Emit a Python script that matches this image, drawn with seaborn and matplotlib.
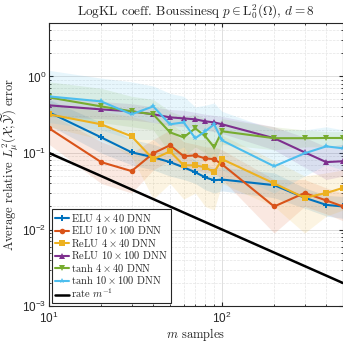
import numpy as np
import pandas as pd
import matplotlib
matplotlib.use("Agg")
import matplotlib.pyplot as plt
import seaborn as sns

# sample sizes
m = [10, 20, 30, 40, 50, 60, 70, 80, 90, 100, 200, 300, 400, 500]

labels = [r"ELU $4\times 40$ DNN", r"ELU $10\times 100$ DNN",
          r"ReLU $4\times 40$ DNN", r"ReLU $10\times 100$ DNN",
          r"tanh $4\times 40$ DNN", r"tanh $10\times 100$ DNN"]

# mean errors
elu_4x40 = [0.340, 0.160, 0.102, 0.088, 0.076, 0.065, 0.056, 0.048, 0.044, 0.045, 0.038, 0.026, 0.021, 0.020]
elu_10x100 = [0.210, 0.076, 0.058, 0.099, 0.126, 0.091, 0.093, 0.085, 0.083, 0.071, 0.020, 0.030, 0.024, 0.020]
relu_4x40 = [0.320, 0.237, 0.165, 0.083, 0.105, 0.069, 0.069, 0.065, 0.056, 0.083, 0.040, 0.026, 0.030, 0.035]
relu_10x100 = [0.419, 0.371, 0.350, 0.320, 0.292, 0.283, 0.275, 0.259, 0.251, 0.237, 0.156, 0.102, 0.076, 0.078]
tanh_4x40 = [0.532, 0.406, 0.350, 0.320, 0.186, 0.160, 0.210, 0.165, 0.119, 0.192, 0.156, 0.156, 0.157, 0.157]
tanh_10x100 = [0.548, 0.472, 0.320, 0.406, 0.237, 0.251, 0.156, 0.192, 0.237, 0.146, 0.067, 0.099, 0.122, 0.115]

# shaded bands (lower / upper)
elu_4x40_lo = [0.23, 0.10, 0.07, 0.06, 0.05, 0.045, 0.04, 0.033, 0.030, 0.032, 0.026, 0.019, 0.015, 0.014]
elu_4x40_hi = [0.50, 0.25, 0.15, 0.13, 0.11, 0.10, 0.08, 0.07, 0.065, 0.065, 0.055, 0.035, 0.028, 0.027]
elu_10x100_lo = [0.13, 0.04, 0.03, 0.06, 0.08, 0.06, 0.06, 0.055, 0.055, 0.045, 0.009, 0.020, 0.016, 0.013]
elu_10x100_hi = [0.33, 0.14, 0.10, 0.15, 0.20, 0.14, 0.13, 0.12, 0.12, 0.11, 0.045, 0.045, 0.035, 0.030]
relu_4x40_lo = [0.22, 0.15, 0.09, 0.025, 0.04, 0.025, 0.03, 0.02, 0.018, 0.04, 0.02, 0.009, 0.015, 0.018]
relu_4x40_hi = [0.45, 0.35, 0.30, 0.25, 0.25, 0.18, 0.15, 0.15, 0.14, 0.17, 0.08, 0.05, 0.055, 0.06]
relu_10x100_lo = [0.30, 0.28, 0.27, 0.25, 0.23, 0.22, 0.21, 0.20, 0.19, 0.18, 0.11, 0.065, 0.045, 0.05]
relu_10x100_hi = [0.55, 0.47, 0.44, 0.40, 0.37, 0.36, 0.34, 0.32, 0.31, 0.30, 0.22, 0.16, 0.12, 0.13]
tanh_4x40_lo = [0.30, 0.25, 0.22, 0.20, 0.10, 0.09, 0.12, 0.10, 0.07, 0.13, 0.11, 0.12, 0.12, 0.12]
tanh_4x40_hi = [0.85, 0.70, 0.55, 0.50, 0.35, 0.30, 0.32, 0.28, 0.22, 0.28, 0.22, 0.20, 0.19, 0.19]
tanh_10x100_lo = [0.25, 0.20, 0.15, 0.15, 0.10, 0.12, 0.07, 0.08, 0.10, 0.06, 0.03, 0.05, 0.07, 0.06]
tanh_10x100_hi = [1.20, 0.95, 0.85, 0.75, 0.60, 0.55, 0.40, 0.42, 0.45, 0.35, 0.20, 0.20, 0.22, 0.20]

rate_m = [10, 500]
rate_vals = [0.1, 0.002]

means = [elu_4x40, elu_10x100, relu_4x40, relu_10x100, tanh_4x40, tanh_10x100]
lows = [elu_4x40_lo, elu_10x100_lo, relu_4x40_lo, relu_10x100_lo, tanh_4x40_lo, tanh_10x100_lo]
highs = [elu_4x40_hi, elu_10x100_hi, relu_4x40_hi, relu_10x100_hi, tanh_4x40_hi, tanh_10x100_hi]
colors = ["#0072BD", "#D95319", "#EDB120", "#7E2F8E", "#77AC30", "#4DBEEE"]
markers = ["P", "o", "s", "^", "v", "*"]

df = pd.DataFrame({
    "m": m * len(labels),
    "err": sum(means, []),
    "model": sum([[lab] * len(m) for lab in labels], []),
})

sns.set_style("ticks")
plt.rcParams["mathtext.fontset"] = "cm"
plt.rcParams["font.family"] = ["Liberation Sans", "DejaVu Sans"]
serif = "cmr10"

fig = plt.figure(figsize=(3.43, 3.42), dpi=100)
ax = fig.add_axes([0.143, 0.105, 0.857, 0.828])

for lo, hi, c in zip(lows, highs, colors):
    ax.fill_between(m, lo, hi, color=c, alpha=0.13, linewidth=0)

sns.lineplot(data=df, x="m", y="err", hue="model", style="model",
             palette=dict(zip(labels, colors)), markers=dict(zip(labels, markers)),
             dashes=False, linewidth=1.5, markersize=4, markeredgewidth=0,
             ax=ax, legend=False)
ax.plot(rate_m, rate_vals, color="black", lw=1.8)

ax.set_xscale("log")
ax.set_yscale("log")
ax.set_xlim(10, 500)
ax.set_ylim(1e-3, 5)

ax.grid(which="major", color="#d9d9d9", lw=0.6)
ax.grid(which="minor", color="#e4e4e4", lw=0.5, ls="--")
ax.set_axisbelow(True)
ax.tick_params(which="both", direction="in", top=True, right=True, colors="#262626",
               labelsize=8.5)
ax.tick_params(axis="y", pad=2)
ax.tick_params(axis="x", pad=3.5)
ax.tick_params(which="major", length=3)
ax.tick_params(which="minor", length=1.5)
for s in ax.spines.values():
    s.set_color("#262626")
    s.set_linewidth(0.8)

ax.set_title(r"LogKL coeff. Boussinesq $p\in \mathrm{L}^2_0(\Omega)$, $d=8$",
             fontsize=9.5, family=serif, pad=5)
ax.set_xlabel(r"$m$ samples", fontsize=9, family=serif, labelpad=0)
ax.set_ylabel(r"Average relative $L^2_\mu(\mathcal{X};\widetilde{\mathcal{Y}})$ error",
              fontsize=9, family=serif, labelpad=1)

handles = [plt.Line2D([], [], color=c, marker=mk, markersize=4, lw=1.5, markeredgewidth=0)
           for c, mk in zip(colors, markers)]
handles.append(plt.Line2D([], [], color="black", lw=1.8))
leg = ax.legend(handles, labels + [r"rate $m^{-1}$"], loc="lower left",
                prop={"family": serif, "size": 7.5}, frameon=True, fancybox=False,
                framealpha=1, edgecolor="#262626", handlelength=1.4, handletextpad=0.2,
                labelspacing=0.05, borderpad=0.3, borderaxespad=0.25)
leg.get_frame().set_linewidth(0.8)

fig.savefig("out.png", dpi=100)
